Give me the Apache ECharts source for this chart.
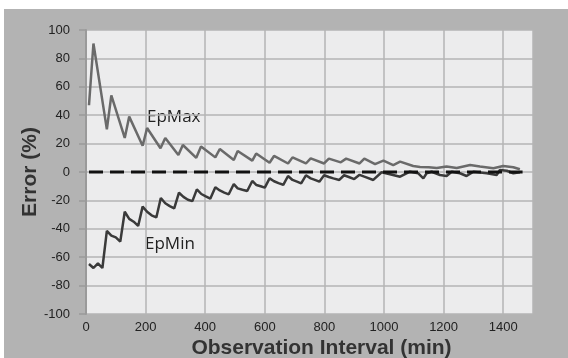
<!DOCTYPE html>
<html>
<head>
<meta charset="utf-8">
<script src="https://cdn.jsdelivr.net/npm/echarts@6/dist/echarts.min.js"></script>
<style>
	html, body { margin: 0; padding: 0; background: #ffffff; }
	#bg { position: absolute; left: 4px; top: 9px; right: 0; bottom: 0; background: #b3b3b3; }
	#errorChart { position: absolute; left: 0; top: 0; width: 568px; height: 358px; }
</style>
</head>
<body>
<div id="bg"></div>
<div id="errorChart"></div>
<script>
	// 读图得到的数据 (observation interval in min, error in %)
	var epMaxX = [10, 25, 70, 85, 130, 145, 190, 205, 250, 266, 310, 325, 370, 386, 434, 449, 496, 509, 558, 571,
		616, 631, 678, 693, 738, 754, 799, 815, 855, 873, 918, 934, 970, 998, 1031, 1054, 1098, 1121, 1150, 1177,
		1210, 1244, 1289, 1322, 1367, 1400, 1434, 1456];
	var epMaxY = [47, 90.5, 30, 54, 24, 39, 18.5, 31, 16.7, 24, 12, 19, 10, 18, 10.3, 16.2, 8.5, 14.8, 8, 13,
		6.5, 11.3, 6, 10.3, 6, 9.6, 6, 9.4, 6.8, 9.4, 6, 9.4, 5.6, 8, 4.9, 7.3, 4.2, 3.6, 3.4, 2.8,
		3.8, 2.8, 4.9, 3.8, 2.6, 4.2, 3.3, 1.9];

	var epMinX = [10, 25, 40, 55, 70, 85, 100, 115, 130, 145, 160, 175, 190, 205, 220, 236, 251, 266, 281, 296,
		312, 327, 342, 357, 372, 387, 402, 417, 434, 449, 464, 479, 496, 509, 525, 541, 558, 572, 586, 600,
		616, 631, 646, 662, 678, 693, 708, 722, 738, 754, 768, 783, 799, 815, 830, 850, 866, 882, 900, 918,
		934, 964, 992, 1020, 1054, 1087, 1115, 1132, 1143, 1160, 1188, 1210, 1227, 1255, 1277, 1300, 1345, 1378,
		1389, 1412, 1434, 1456];
	var epMinY = [-64.8, -67.6, -64.3, -67.6, -41.5, -44.8, -46, -49, -28, -33, -35, -38, -24.4, -28, -30.5, -32, -18.3, -22, -24, -25.6,
		-14.6, -17.5, -19.5, -20.5, -12.2, -15.5, -17.2, -18.8, -10.8, -13, -14.5, -15.7, -8.5, -11.5, -12.5, -13.4, -6.3, -9.2, -10, -11,
		-4.5, -6.5, -7.8, -9, -2.8, -5.6, -6.8, -8, -2.3, -4.5, -5.5, -6.8, -2.3, -3.5, -4.5, -5.6, -2.3, -3.5, -5, -2,
		-3.3, -5.6, -0.2, -1.6, -3.3, 0.2, -0.9, -4.5, -0.9, 0.2, -2.1, -2.8, 0.2, -0.9, -2.8, 0.2, -0.9, -2.1,
		1.4, 0.9, -0.9, -0.2];

	var zeroX = [10, 1465];
	var zeroY = [0, 0];

	var xTicks = [0, 1500, 200];
	var yTicks = [-100, 100, 20];

	function pairs(xs, ys) {
		var out = [];
		xs.forEach(function (x, i) { out.push([x, ys[i]]); });
		return out;
	}

	var errorChart = echarts.init(document.getElementById('errorChart'));
	var titleFont = '"Liberation Sans", Arial, sans-serif';
	var labelFont = '"Liberation Sans", Arial, sans-serif';
	var option = {
		backgroundColor: 'transparent',
		animation: false,
		grid: {
			left: 86,
			right: 35,
			top: 30,
			bottom: 44,
			outerBoundsMode: 'none',
			containLabel: false,
			show: true,
			backgroundColor: '#ececed',
			borderWidth: 0
		},
		xAxis: {
			type: 'value',
			min: xTicks[0],
			max: xTicks[1],
			interval: xTicks[2],
			axisLine: { show: false, onZero: false },
			axisTick: { show: false },
			axisLabel: {
				showMaxLabel: false,
				margin: 7,
				fontSize: 13,
				color: '#222',
				fontFamily: labelFont,
				formatter: function (v) { return String(v); }
			},
			splitLine: { lineStyle: { color: '#b5b5b5', width: 1.5 } },
			name: 'Observation Interval (min)',
			nameLocation: 'middle',
			nameMoveOverlap: false,
			nameGap: 24,
			nameTextStyle: {
				fontSize: 21,
				fontWeight: 'bold',
				color: '#333',
				fontFamily: titleFont,
				padding: [0, 0, 0, 24]
			}
		},
		yAxis: {
			type: 'value',
			min: yTicks[0],
			max: yTicks[1],
			interval: yTicks[2],
			axisLine: { show: true, lineStyle: { color: '#9a9a9a', width: 2 } },
			axisTick: { show: true, length: 7, lineStyle: { color: '#9a9a9a', width: 1.5 } },
			axisLabel: {
				margin: 16,
				fontSize: 13,
				color: '#222',
				fontFamily: labelFont
			},
			splitLine: { lineStyle: { color: '#b5b5b5', width: 1.5 } },
			name: 'Error (%)',
			nameLocation: 'middle',
			nameMoveOverlap: false,
			nameGap: 45,
			nameTextStyle: {
				fontSize: 21,
				fontWeight: 'bold',
				color: '#333',
				fontFamily: titleFont
			}
		},
		graphic: [
			{ type: 'text', left: 147, top: 109, style: { text: 'EpMax', fontSize: 17, fill: '#222', fontFamily: '"Open Sans", sans-serif' } },
			{ type: 'text', left: 145, top: 236, style: { text: 'EpMin', fontSize: 17, fill: '#222', fontFamily: '"Open Sans", sans-serif' } }
		],
		series: [
			{
				name: 'EpMax',
				type: 'line',
				symbol: 'none',
				data: pairs(epMaxX, epMaxY),
				lineStyle: { color: '#6a6a6a', width: 2.5 },
				z: 3
			},
			{
				name: 'EpMin',
				type: 'line',
				symbol: 'none',
				data: pairs(epMinX, epMinY),
				lineStyle: { color: '#3a3a3a', width: 2.5 },
				z: 4
			},
			{
				name: 'zero',
				type: 'line',
				symbol: 'none',
				data: pairs(zeroX, zeroY),
				lineStyle: { color: '#111', width: 3, type: [14, 7] },
				z: 5
			}
		]
	};
	errorChart.setOption(option, true);
</script>
</body>
</html>
